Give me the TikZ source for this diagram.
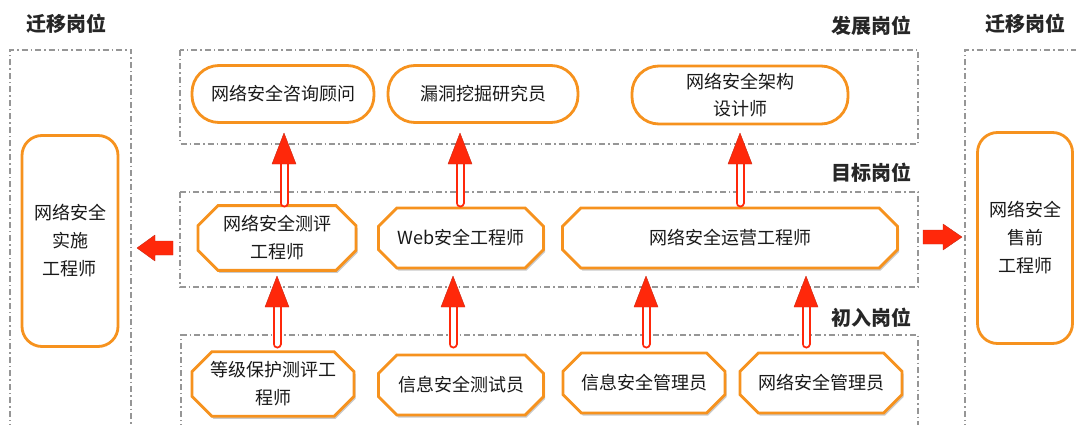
\documentclass[tikz,border=0pt]{standalone}
\usepackage{fontspec}
\setmainfont{Noto Sans CJK SC}
\usetikzlibrary{shapes.misc,shadows,calc}
\definecolor{orng}{RGB}{246,146,30}
\definecolor{grp}{RGB}{150,150,150}
\definecolor{arrred}{RGB}{255,40,10}
\definecolor{arrdark}{RGB}{200,40,20}
\tikzset{
  grpbox/.style={draw=grp, line width=1.1pt, dash pattern=on 6pt off 3pt on 1.5pt off 3pt},
  grplabel/.style={font=\fontsize{20}{23}\selectfont\bfseries, text=black!85},
  pillbox/.style={draw=orng, line width=2.8pt, fill=white, rounded corners=27pt, align=center,
    font=\fontsize{18}{27}\selectfont, text=black!90, inner sep=0pt},
  chambox/.style={chamfered rectangle, chamfered rectangle xsep=10pt, chamfered rectangle ysep=10pt,
    draw=orng, line width=2.8pt, fill=white, align=center, font=\fontsize{18}{28}\selectfont,
    text=black!90, inner sep=0pt,
    drop shadow={shadow xshift=1.5pt, shadow yshift=-2.5pt, opacity=0.35, fill=black!60}},
  sidebox/.style={draw=orng, line width=2.8pt, fill=white, rounded corners=20pt, align=center,
    font=\fontsize{18}{28}\selectfont, text=black!90, inner sep=0pt},
  shaft/.style={draw=arrred, line width=2pt, double=white, double distance=5pt, line cap=round},
  arrhead/.style={fill=arrred, draw=arrdark, line width=0.4pt, line join=round},
}
\newcommand{\hollowup}[2]{%
  \draw[shaft] (#1) -- ($(#2)+(0,28)$);
  \filldraw[arrhead] (#2) -- ($(#2)+(-12,31)$) -- ($(#2)+(12,31)$) -- cycle;
}
\begin{document}
\begin{tikzpicture}[x=1pt,y=-1pt]
\useasboundingbox (0,0) rectangle (1076,425);
% group boxes
\draw[grpbox] (10,430) -- (10,50) -- (131,50) -- (131,430);
\draw[grpbox] (965,430) -- (965,50) -- (1080,50);
\draw[grpbox] (180,50) rectangle (918,144);
\draw[grpbox] (180,192) rectangle (918,287);
\draw[grpbox] (181,430) -- (181,335) -- (918,335) -- (918,430);
% labels
\node[grplabel] (lblL) at (66,24) {迁移岗位};
\node[grplabel] (lblR) at (1025,24) {迁移岗位};
\node[grplabel] (lblT) at (871,26) {发展岗位};
\node[grplabel] (lblM) at (871,173) {目标岗位};
\node[grplabel] (lblB) at (871,318) {初入岗位};
% side nodes
\node[sidebox, minimum width=96pt, minimum height=211pt] (impl) at (70,241) {网络安全\\实施\\工程师};
\node[sidebox, minimum width=95pt, minimum height=211pt] (pre) at (1025,238) {网络安全\\售前\\工程师};
% top nodes
\node[pillbox, minimum width=182pt, minimum height=57pt] (t1) at (283,94) {网络安全咨询顾问};
\node[pillbox, minimum width=190pt, minimum height=57pt] (t2) at (483,94) {漏洞挖掘研究员};
\node[pillbox, minimum width=216pt, minimum height=58pt] (t3) at (740,95) {网络安全架构\\设计师};
% middle nodes
\node[chambox, minimum width=158pt, minimum height=60pt] (m1) at (277,238) {网络安全测评\\工程师};
\node[chambox, minimum width=165pt, minimum height=60pt] (m2) at (461,238) {Web安全工程师};
\node[chambox, minimum width=335pt, minimum height=60pt] (m3) at (730,238) {网络安全运营工程师};
% bottom nodes
\node[chambox, minimum width=162pt, minimum height=61pt] (b1) at (273,384) {等级保护测评工\\程师};
\node[chambox, minimum width=165pt, minimum height=60pt] (b2) at (461,385) {信息安全测试员};
\node[chambox, minimum width=162pt, minimum height=60pt] (b3) at (644,383) {信息安全管理员};
\node[chambox, minimum width=162pt, minimum height=60pt] (b4) at (821,383) {网络安全管理员};
% arrow anchor coordinates
\coordinate (u1b) at (284,203); \coordinate (u1t) at (284,133);
\coordinate (u2b) at (460,203); \coordinate (u2t) at (460,133);
\coordinate (u3b) at (740,203); \coordinate (u3t) at (740,133);
\coordinate (d1b) at (277,344); \coordinate (d1t) at (277,276);
\coordinate (d2b) at (453,344); \coordinate (d2t) at (453,276);
\coordinate (d3b) at (646,344); \coordinate (d3t) at (646,276);
\coordinate (d4b) at (806,344); \coordinate (d4t) at (806,276);
\hollowup{u1b}{u1t}
\hollowup{u2b}{u2t}
\hollowup{u3b}{u3t}
\hollowup{d1b}{d1t}
\hollowup{d2b}{d2t}
\hollowup{d3b}{d3t}
\hollowup{d4b}{d4t}
% horizontal arrows
\coordinate (lt) at (137,248);
\filldraw[arrhead] (lt) -- ++(18,-13) -- ++(0,6) -- ++(18,0) -- ++(0,14) -- ++(-18,0) -- ++(0,6) -- cycle;
\coordinate (rt) at (962,237);
\filldraw[arrhead] (rt) -- ++(-19,-13) -- ++(0,6) -- ++(-20,0) -- ++(0,14) -- ++(20,0) -- ++(0,6) -- cycle;
\end{tikzpicture}
\end{document}
